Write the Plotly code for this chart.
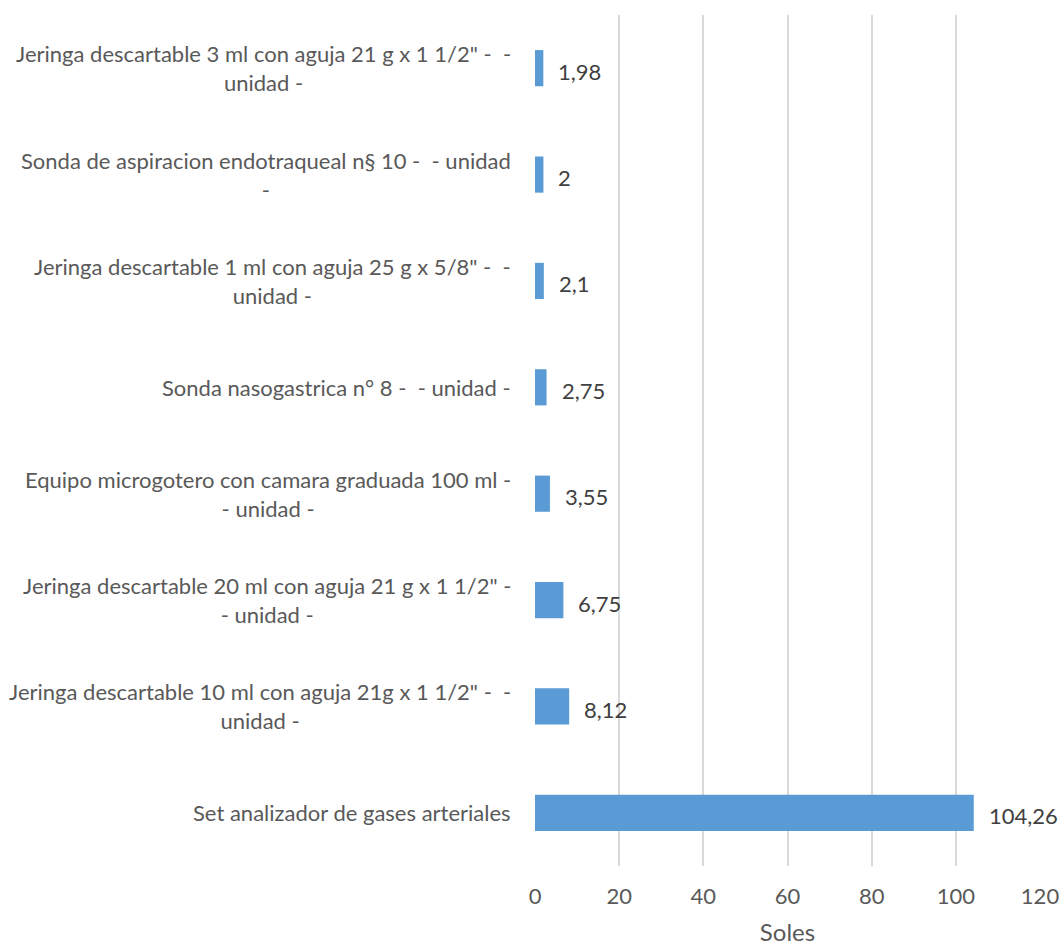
import plotly.graph_objects as go

categories = [
    "Jeringa descartable 3 ml con aguja 21 g x 1 1/2\" -\u00a0 -<br>unidad -",
    "Sonda de aspiracion endotraqueal n§ 10 -\u00a0 - unidad<br>-",
    "Jeringa descartable 1 ml con aguja 25 g x 5/8\" -\u00a0 -<br>unidad -",
    "Sonda nasogastrica n° 8 -\u00a0 - unidad -",
    "Equipo microgotero con camara graduada 100 ml -<br>- unidad -",
    "Jeringa descartable 20 ml con aguja 21 g x 1 1/2\" -<br>- unidad -",
    "Jeringa descartable 10 ml con aguja 21g x 1 1/2\" -\u00a0 -<br>unidad -",
    "Set analizador de gases arteriales",
]
values = [1.98, 2, 2.1, 2.75, 3.55, 6.75, 8.12, 104.26]
value_labels = [str(v).replace(".", ",") for v in values]
x_ticks = [0, 20, 40, 60, 80, 100, 120]

FONT = "Lato"
GRAY = "#595959"

fig = go.Figure()
fig.add_trace(go.Bar(
    x=values, y=categories, orientation="h",
    marker=dict(color="#5b9bd5", line=dict(width=0)),
    hoverinfo="skip",
))

annotations = []
for c in categories:
    annotations.append(dict(
        x=0, y=c, xref="x", yref="y", text=c, showarrow=False,
        xanchor="right", yanchor="middle", align="center", xshift=-22,
        font=dict(family=FONT, size=22, color=GRAY),
    ))
for c, v, t in zip(categories, values, value_labels):
    annotations.append(dict(
        x=v, y=c, xref="x", yref="y", text=t, showarrow=False,
        xanchor="left", yanchor="middle", xshift=13, yshift=-3,
        font=dict(family=FONT, size=22, color="#404040"),
    ))

fig.update_layout(
    width=1059, height=947,
    margin=dict(l=535, r=19, t=15, b=81),
    paper_bgcolor="white", plot_bgcolor="white",
    bargap=0.66,
    showlegend=False,
    annotations=annotations,
    font=dict(family=FONT, size=22, color=GRAY),
    xaxis=dict(
        range=[0, 120], tickvals=x_ticks, ticktext=[str(t) for t in x_ticks],
        showgrid=True, gridcolor="#d9d9d9", gridwidth=1.5,
        zeroline=False, showline=False, ticks="",
        ticklabeloverflow="allow", automargin=False,
        ticklabelstandoff=15,
        tickfont=dict(family=FONT, size=22, color=GRAY),
        title=dict(text="Soles", font=dict(family=FONT, size=24, color=GRAY), standoff=16),
        fixedrange=True,
    ),
    yaxis=dict(
        autorange="reversed", showticklabels=False, showgrid=False,
        zeroline=False, showline=False, ticks="", fixedrange=True,
        automargin=False,
    ),
)

fig.write_html("out.html")
